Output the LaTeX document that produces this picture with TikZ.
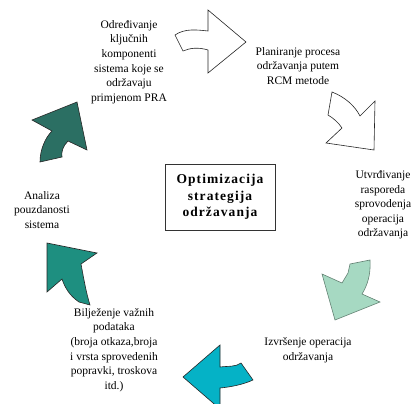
\documentclass[tikz,border=0pt]{standalone}
\usepackage{fontspec}
\setmainfont{Liberation Serif}
\definecolor{aLight}{HTML}{A6D9C2}
\definecolor{aCyan}{HTML}{05B2C6}
\definecolor{aTeal}{HTML}{1E8F80}
\definecolor{aDark}{HTML}{2B6F63}
\begin{document}
\begin{tikzpicture}[x=1pt,y=-1pt,
  arr/.style={draw=black!85, line width=0.6pt, line join=miter},
  lbl/.style={align=center, inner sep=0pt, font=\fontsize{11.5}{14.6}\selectfont},
  hub/.style={draw=black!80, line width=0.7pt, minimum width=110pt, minimum height=66pt, align=center, inner sep=0pt,
    font=\fontsize{13.5}{16.5}\selectfont\bfseries\addfontfeature{LetterSpace=8}}]
\useasboundingbox (0,0) rectangle (415,404);
% arrows
\draw[arr, fill=white] (175,35) .. controls (185,28) and (198,30) .. (208,31) -- (208,10) -- (246,42) -- (208,73) -- (208,50) .. controls (198,47) and (190,48) .. (183,51) -- cycle;
\draw[arr, fill=white] (332,92) .. controls (345,97) and (355,106) .. (360,116) -- (375,101) -- (374,150) -- (326,143) -- (342,128) .. controls (338,122) and (333,118) .. (328,115) -- cycle;
\draw[arr, fill=aLight, draw=aLight!60!black] (350,264) -- (370,260) .. controls (371,275) and (367,286) .. (362,294) -- (380,302) -- (335,320) -- (322,274) -- (342,283) -- (348,273) -- cycle;
\draw[arr, fill=aCyan] (183,377) -- (220,345) -- (220,367) .. controls (228,366) and (236,367) .. (241,363) -- (253,380) .. controls (242,385) and (230,387) .. (220,388) -- (220,409) -- cycle;
\draw[arr, fill=aTeal] (47,243) -- (97,253) -- (81,264) .. controls (84,280) and (86,292) .. (90,305) -- (79,302) .. controls (70,296) and (65,288) .. (62,279) -- (47,292) -- cycle;
\draw[arr, fill=aDark] (77,102) -- (87,150) -- (68,141) .. controls (63,146) and (61,152) .. (62,157) -- (40,162) .. controls (40,150) and (45,138) .. (52,131) -- (32,120) -- cycle;
% texts
\node[lbl] (t1) at (129,62) {Određivanje\\ključnih\\komponenti\\sistema koje se\\održavaju\\primjenom PRA};
\node[lbl] (t2) at (298,66) {Planiranje procesa\\održavanja putem\\RCM metode};
\node[lbl] (t3) at (383,205) {Utvrđivanje\\rasporeda\\sprovodenja\\operacija\\održavanja};
\node[lbl] (t4) at (308,350) {Izvršenje operacija\\održavanja};
\node[lbl] (t5) at (114,350) {Bilježenje važnih\\podataka\\(broja otkaza,broja\\i vrsta sprovedenih\\popravki, troskova\\itd.)};
\node[lbl] (t6) at (42,210) {Analiza\\pouzdanosti\\sistema};
\node[hub] (hub) at (220,197) {Optimizacija\\strategija\\održavanja};
\end{tikzpicture}
\end{document}
